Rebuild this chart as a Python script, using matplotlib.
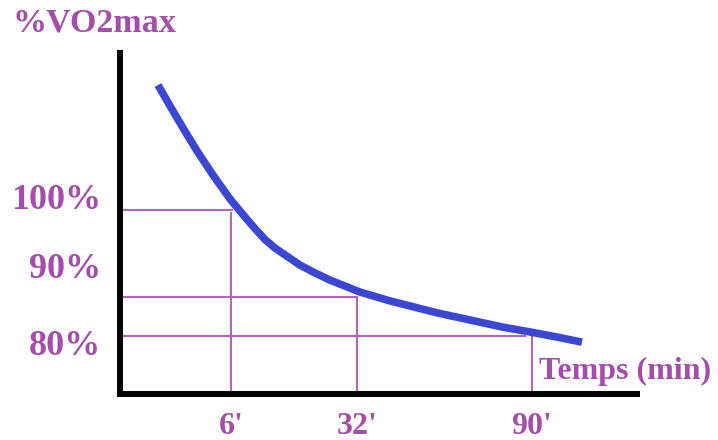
import matplotlib
matplotlib.use("Agg")
import matplotlib.pyplot as plt

# ---- data (schematic units: x 0-100 across the axis, y 0-100 up the axis) ----
curve_x = [7.35, 9.67, 12.19, 14.89, 17.99, 21.28, 24.18, 26.11, 28.05, 29.98, 31.91,
           34.82, 37.72, 40.62, 46.42, 52.22, 61.32, 67.70, 74.08, 79.30, 84.53, 89.36]
curve_y = [90.6, 84.5, 78.0, 71.3, 64.2, 57.2, 51.9, 48.5, 45.3, 42.8, 40.8,
           37.8, 35.5, 33.4, 29.9, 27.3, 23.8, 21.7, 19.6, 18.2, 16.7, 15.2]

ref_levels = [54.0, 28.4, 17.0]          # horizontal guide levels
ref_level_ends = [21.7, 45.8, 78.3]      # where each horizontal guide stops
ref_times = [21.5, 45.8, 79.7]           # vertical guide positions
ref_time_tops = [53.1, 28.4, 17.3]       # top of each vertical guide
time_labels = ["6'", "32'", "90'"]
pct_labels = ["100%", "90%", "80%"]
pct_label_y = [56.6, 36.6, 14.0]

text_color = "#A24EAA"
guide_color = "#B564B8"
curve_color = "#3B46D2"
font = dict(family="Liberation Serif", weight="bold", color=text_color)

fig = plt.figure(figsize=(7.18, 4.40), dpi=100)
ax = fig.add_axes([120 / 718, (440 - 394) / 440, (637 - 120) / 718, (394 - 53) / 440])
ax.set_xlim(0, 100)
ax.set_ylim(0, 100)

for s in ["top", "right"]:
    ax.spines[s].set_visible(False)
for s in ["left", "bottom"]:
    ax.spines[s].set_linewidth(4.3)
    ax.spines[s].set_color("black")

# guides
for lvl, end in zip(ref_levels, ref_level_ends):
    ax.plot([0, end], [lvl, lvl], color=guide_color, lw=1.5, zorder=2)
for t, top in zip(ref_times, ref_time_tops):
    ax.plot([t, t], [0, top], color=guide_color, lw=1.5, zorder=2)

# curve
ax.plot(curve_x, curve_y, color=curve_color, lw=5.5, solid_capstyle="butt",
        solid_joinstyle="round", zorder=3)

# ticks
ax.set_xticks(ref_times)
ax.set_xticklabels(time_labels, fontsize=23, **font)
ax.tick_params(axis="x", length=0, pad=13)
ax.set_yticks([])
for lab, y in zip(pct_labels, pct_label_y):
    ax.text(-3.6, y, lab, ha="right", va="center", fontsize=26,
            transform=ax.transData, clip_on=False, **font)

fig.text(13 / 718, 1 - 23 / 440, "%VO2max", ha="left", va="center", fontsize=24.5, **font)
ax.text(81.0, 6.6, "Temps (min)", ha="left", va="center", fontsize=23,
        clip_on=False, **font)

fig.savefig("out.png", dpi=100)
